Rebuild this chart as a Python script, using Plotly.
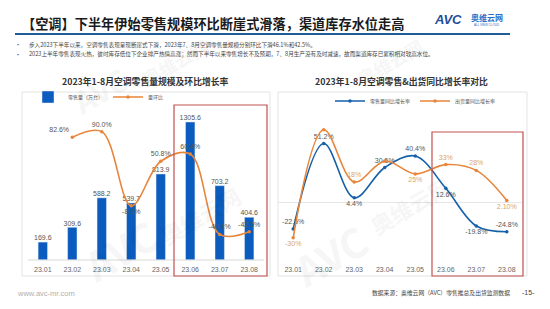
import plotly.graph_objects as go

months = ["23.01", "23.02", "23.03", "23.04", "23.05", "23.06", "23.07", "23.08"]
retail_volume = [169.6, 309.6, 588.2, 539.7, 813.9, 1305.6, 703.2, 404.6]
mom_growth = [None, 82.6, 90.0, -8.2, 50.8, 60.4, -46.1, -42.5]
retail_yoy = [-22.5, 51.2, 4.4, 30.5, 40.4, 12.6, -19.8, -24.8]
ship_yoy = [-30, 63, 18, 36, 25, 33, 28, 2.10]
ship_labels = ["-30%", "", "18%", "", "25%", "33%", "28%", "2.10%"]

BLUE = "#0b5cbe"
ORANGE = "#e8853a"
FONT = "Noto Sans CJK SC"

fig = go.Figure()

# left chart
fig.add_trace(go.Bar(
    x=months, y=retail_volume, name="零售量（万台）", marker_color=BLUE,
    xaxis="x", yaxis="y", legend="legend", width=0.32,
))
fig.add_trace(go.Scatter(
    x=months, y=retail_volume, mode="text", showlegend=False,
    text=[f"{v:.1f}" for v in retail_volume], textposition="top center",
    textfont=dict(size=7, color="#555", family="Arial"), cliponaxis=False,
    xaxis="x", yaxis="y", hoverinfo="skip",
))
fig.add_trace(go.Scatter(
    x=months, y=mom_growth, name="量环比", mode="lines+markers+text",
    line=dict(color=ORANGE, width=1.6, shape="spline", smoothing=1.0),
    marker=dict(size=3.5, color=ORANGE),
    text=[("" if v is None else f"{v:.1f}%") for v in mom_growth],
    textposition=["top center", "top left", "top center", "bottom center",
                  "top center", "top center", "top center", "top center"],
    textfont=dict(size=7, color="#555", family="Arial"), cliponaxis=False,
    xaxis="x", yaxis="y2", legend="legend",
))

# right chart
fig.add_trace(go.Scatter(
    x=months, y=retail_yoy, name="零售量同比增长率", mode="lines+markers+text",
    line=dict(color="#1560a8", width=1.6, shape="spline", smoothing=1.0),
    marker=dict(size=3.5, color="#1560a8"),
    text=[f"{v:.1f}%" for v in retail_yoy],
    textposition=["top center", "top center", "bottom center", "top center",
                  "top center", "bottom center", "bottom center", "top center"],
    textfont=dict(size=7, color="#555", family="Arial"), cliponaxis=False,
    xaxis="x2", yaxis="y3", legend="legend2",
))
fig.add_trace(go.Scatter(
    x=months, y=ship_yoy, name="出货量同比增长率", mode="lines+markers+text",
    line=dict(color=ORANGE, width=1.6, shape="spline", smoothing=1.0),
    marker=dict(size=3.5, color=ORANGE),
    text=ship_labels,
    textposition=["bottom center", "top center", "top center", "bottom center",
                  "bottom center", "top center", "top center", "bottom center"],
    textfont=dict(size=7, color="#d9a46a", family="Arial"), cliponaxis=False,
    xaxis="x2", yaxis="y3", legend="legend2",
))

W, H = 550, 309
def px(x):
    return x / W
def py(y):
    return 1 - y / H

shapes = []
shapes.append(dict(type="line", xref="paper", yref="paper", x0=px(15), x1=px(510),
                   y0=py(34), y1=py(34), line=dict(color="#1f5c99", width=2)))
for x0, x1 in [(22, 270), (278, 527)]:
    shapes.append(dict(type="rect", xref="paper", yref="paper", x0=px(x0), x1=px(x1),
                       y0=py(276), y1=py(92), line=dict(color="#e3e3e3", width=1)))
shapes.append(dict(type="line", xref="paper", yref="paper", x0=px(28), x1=px(264),
                   y0=py(260), y1=py(260), line=dict(color="#d9d9d9", width=1)))
for x0, x1, y0 in [(174, 267, 105), (432, 523, 132)]:
    shapes.append(dict(type="rect", xref="paper", yref="paper", x0=px(x0), x1=px(x1),
                       y0=py(276), y1=py(y0), line=dict(color="#c0504d", width=1.2)))

annotations = []
def ann(x, y, text, size, color="#333", xanchor="left", bold=False, family=FONT, angle=0, opacity=1):
    t = f"<b>{text}</b>" if bold else text
    annotations.append(dict(x=px(x), y=py(y), xref="paper", yref="paper", text=t,
                            showarrow=False, xanchor=xanchor, yanchor="middle",
                            font=dict(size=size, color=color, family=family),
                            textangle=angle, opacity=opacity))

# faint watermarks
for (x, y, t, s) in [(120, 250, "AVC", 40), (200, 215, "奥维云网", 22),
                     (330, 255, "AVC", 40), (410, 205, "奥维云网", 22),
                     (100, 90, "AVC", 30), (175, 62, "奥维云网", 18), (390, 62, "奥维云网", 18)]:
    ann(x, y, t, s, color="#000", xanchor="center", bold=True, angle=-30, opacity=0.03)

ann(20, 23, "【空调】下半年伊始零售规模环比断崖式滑落，渠道库存水位走高", 13.2, color="#1a1a1a", bold=True)
ann(432, 19, "<i>AVC</i>", 13, color="#1f4e9c", bold=True, family="Arial")
ann(469, 17, "奥维云网", 8, color="#2a6fc9", bold=True)
ann(472, 25, "ALL VIEW CLOUD", 3, color="#2a6fc9", family="Arial")
ann(13, 45, "•", 6, color="#444")
ann(27, 45, "步入2023下半年以来，空调零售表现呈现断崖式下滑，2023年7、8月空调零售量规模分别环比下滑46.1%和42.5%。", 5.6, color="#444")
ann(13, 54, "•", 6, color="#444")
ann(27, 54, "2023上半年零售表现火热，彼时库存低位下企业排产热情高涨；然而下半年以来零售增长不及预期，7、8月生产没有及时减速，故而渠道库存已累积相对较高水位。", 5.6, color="#444")

ann(145, 82, "2023年1-8月空调零售量规模及环比增长率", 8.8, color="#333", xanchor="center", bold=True)
ann(401, 82, "2023年1-8月空调零售&出货同比增长率对比", 8.8, color="#333", xanchor="center", bold=True)

ann(15, 293, "www.avc-mr.com", 7.5, color="#b0b0b0", family="Arial")
ann(370, 292, "数据来源：奥维云网（AVC）零售推总及出货监测数据", 5.8, color="#444")
ann(520, 292, "-15-", 7, color="#444", family="Arial")

fig.update_layout(
    width=W, height=H, margin=dict(l=0, r=0, t=0, b=0),
    paper_bgcolor="white", plot_bgcolor="rgba(0,0,0,0)",
    font=dict(family=FONT, size=7, color="#555"),
    bargap=0.6, shapes=shapes, annotations=annotations,
    xaxis=dict(domain=[px(28), px(264)], type="category", showgrid=False, showline=False,
               ticks="", ticklabelstandoff=4,
               tickfont=dict(size=7, color="#666", family="Arial"), anchor="y", fixedrange=True),
    yaxis=dict(domain=[py(260), py(112)], range=[0, 1400], visible=False, showgrid=False),
    yaxis2=dict(overlaying="y", range=[-80, 116], visible=False, showgrid=False),
    xaxis2=dict(domain=[px(278), px(522)], type="category", showgrid=False, showline=False,
                ticks="", ticklabelstandoff=6,
                tickfont=dict(size=7, color="#666", family="Arial"), anchor="y3"),
    yaxis3=dict(domain=[py(258), py(110)], range=[-47.4, 80], showticklabels=False,
                showgrid=False, zeroline=True, zerolinecolor="#e6e6e6", zerolinewidth=1, anchor="x2"),
    legend=dict(orientation="h", x=px(28), y=py(97), xanchor="left", yanchor="middle",
                font=dict(size=5, color="#555"), bgcolor="rgba(0,0,0,0)",
                itemwidth=30, tracegroupgap=0),
    legend2=dict(orientation="h", x=px(330), y=py(101), xanchor="left", yanchor="middle",
                 font=dict(size=5, color="#555"), bgcolor="rgba(0,0,0,0)",
                 itemwidth=30, tracegroupgap=0),
)

fig.write_html("out.html")
